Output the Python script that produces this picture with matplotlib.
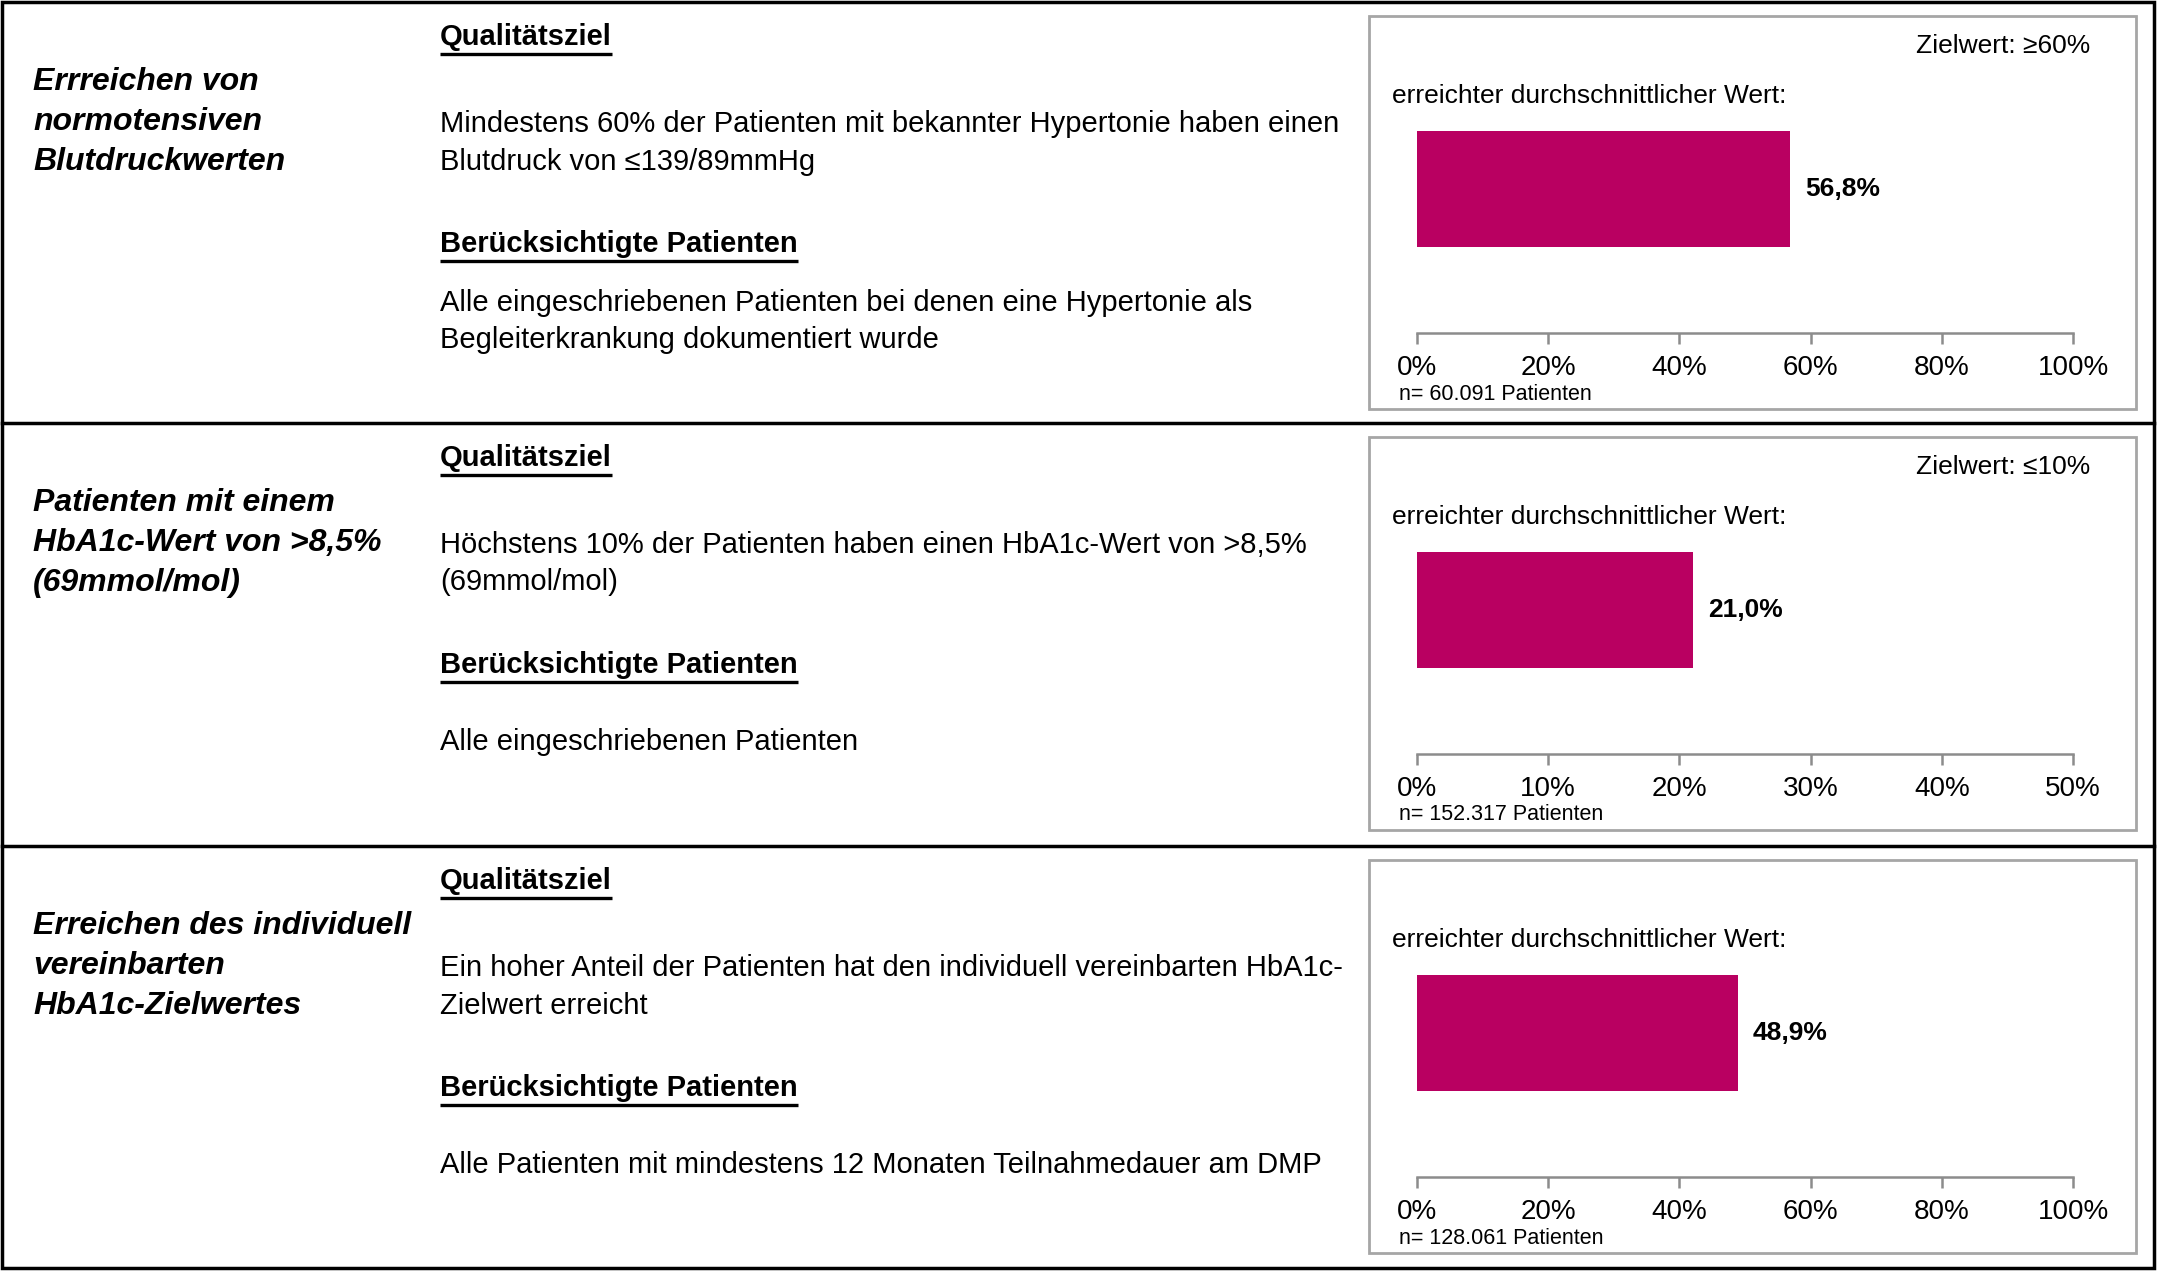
import matplotlib.pyplot as plt
from matplotlib.patches import Rectangle
from matplotlib.ticker import FuncFormatter, MultipleLocator

plt.rcParams['font.family'] = ['Liberation Sans', 'DejaVu Sans']

# Inhalte der drei Qualitätsziele
titel = [
    ["Errreichen von", "normotensiven", "Blutdruckwerten"],
    ["Patienten mit einem", "HbA1c-Wert von >8,5%", "(69mmol/mol)"],
    ["Erreichen des individuell", "vereinbarten", "HbA1c-Zielwertes"],
]
ziel_text = [
    ["Mindestens 60% der Patienten mit bekannter Hypertonie haben einen",
     "Blutdruck von ≤139/89mmHg"],
    ["Höchstens 10% der Patienten haben einen HbA1c-Wert von >8,5%",
     "(69mmol/mol)"],
    ["Ein hoher Anteil der Patienten hat den individuell vereinbarten HbA1c-",
     "Zielwert erreicht"],
]
patienten_text = [
    ["Alle eingeschriebenen Patienten bei denen eine Hypertonie als",
     "Begleiterkrankung dokumentiert wurde"],
    ["Alle eingeschriebenen Patienten"],
    ["Alle Patienten mit mindestens 12 Monaten Teilnahmedauer am DMP"],
]
werte = [56.8, 21.0, 48.9]
zielwerte = ["Zielwert: ≥60%", "Zielwert: ≤10%", None]
achse_max = [100, 50, 100]
achse_schritt = [20, 10, 20]
n_patienten = ["60.091", "152.317", "128.061"]

BALKEN_FARBE = '#b90061'
GRAU = '#8c8c8c'

W, H = 2157, 1271
fig = plt.figure(figsize=(W / 100, H / 100), dpi=100)
bg = fig.add_axes([0, 0, 1, 1])
bg.set_xlim(0, W)
bg.set_ylim(H, 0)
bg.axis('off')


def px_axes(x0, y0, x1, y1):
    # Pixelkoordinaten (oben links) -> Figure-Anteile
    return fig.add_axes([x0 / W, 1 - y1 / H, (x1 - x0) / W, (y1 - y0) / H])


renderer = fig.canvas.get_renderer()


def unterstrichen(x, y, text, size):
    t = bg.text(x, y, text, fontsize=size, fontweight='bold', va='center', ha='left')
    bb = t.get_window_extent(renderer)
    bg.plot([bb.x0, bb.x1], [y + 17, y + 17], color='black', lw=2.4,
            solid_capstyle='butt')


# Außenrahmen und Trennlinien
zeilen_oben = [2, 423, 846]
bg.add_patch(Rectangle((2, 2), W - 5, H - 5, fill=False, ec='black', lw=2.5))
for y in zeilen_oben[1:]:
    bg.plot([2, W - 3], [y, y], color='black', lw=2.5)

for i in range(3):
    top = zeilen_oben[i]

    # linke Spalte: Titel kursiv fett
    for k, zeile in enumerate(titel[i]):
        bg.text(33, top + 80 + k * 40, zeile, fontsize=23, fontweight='bold',
                style='italic', va='center', ha='left')

    # mittlere Spalte
    unterstrichen(440, top + 35, "Qualitätsziel", 21)
    for k, zeile in enumerate(ziel_text[i]):
        bg.text(440, top + 122 + k * 37.5, zeile, fontsize=21, va='center', ha='left')
    unterstrichen(440, top + 242, "Berücksichtigte Patienten", 21)
    if len(patienten_text[i]) == 1:
        bg.text(440, top + 319, patienten_text[i][0], fontsize=21, va='center', ha='left')
    else:
        for k, zeile in enumerate(patienten_text[i]):
            bg.text(440, top + 301 + k * 37.5, zeile, fontsize=21, va='center', ha='left')

    # Diagrammkasten rechts
    bg.add_patch(Rectangle((1369, top + 14), 2136 - 1369, 393, fill=False,
                           ec='#a6a6a6', lw=2))
    if zielwerte[i]:
        bg.text(2090, top + 44, zielwerte[i], fontsize=19, va='center', ha='right')
    bg.text(1392, top + 94, "erreichter durchschnittlicher Wert:", fontsize=19,
            va='center', ha='left')
    bg.text(1399, top + 392, f"n= {n_patienten[i]} Patienten", fontsize=15.5,
            va='center', ha='left')

    # Balken
    ax_top, bar_top, bar_bot, ax_bot = top + 100, top + 129, top + 245, top + 331
    ax = px_axes(1417, ax_top, 2073, ax_bot)
    einheit = bar_bot - bar_top
    ax.set_ylim(-0.5 - (ax_bot - bar_bot) / einheit, 0.5 + (bar_top - ax_top) / einheit)
    ax.set_xlim(0, achse_max[i])
    balken = ax.barh([0], [werte[i]], height=1.0, color=BALKEN_FARBE)
    ax.bar_label(balken, labels=[f"{werte[i]:.1f}".replace('.', ',') + '%'],
                 padding=11, fontsize=19, fontweight='bold')
    ax.patch.set_alpha(0)
    for s in ['top', 'left', 'right']:
        ax.spines[s].set_visible(False)
    ax.spines['bottom'].set_color(GRAU)
    ax.spines['bottom'].set_linewidth(1.8)
    ax.set_yticks([])
    ax.xaxis.set_major_locator(MultipleLocator(achse_schritt[i]))
    ax.xaxis.set_major_formatter(FuncFormatter(lambda v, p: f"{v:.0f}%"))
    ax.tick_params(axis='x', direction='out', length=8, width=1.8, color=GRAU,
                   labelsize=20, pad=8)
    for lbl in ax.get_xticklabels():
        lbl.set_clip_on(False)

fig.savefig('out.png', dpi=100)
